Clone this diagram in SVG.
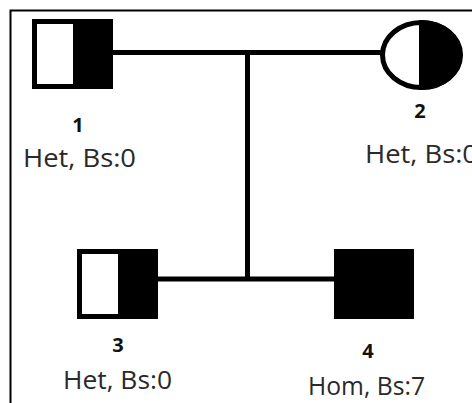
<svg xmlns="http://www.w3.org/2000/svg" width="472" height="403" viewBox="0 0 472 403">
  <style>
    .frame { fill: none; stroke: #000; stroke-width: 2; }
    .outline { fill: none; stroke: #000; stroke-width: 5; }
    .line { fill: none; stroke: #000; stroke-width: 5; }
    .num { font-family: "Open Sans", "Noto Sans", sans-serif; font-weight: bold; font-size: 20px; fill: #111; text-anchor: middle; }
    .info { font-family: "Open Sans", "Noto Sans", sans-serif; font-size: 25px; fill: #2a2a2a; }
  </style>
  <defs>
    <clipPath id="rightHalf2">
      <rect x="419" y="0" width="60" height="120"/>
    </clipPath>
  </defs>
  <rect width="472" height="403" fill="#fff"/>
  <!-- outer frame (runs off the right and bottom edges) -->
  <path class="frame" d="M10.5,410 V10.5 H480"/>

  <g id="connectors">
    <line class="line" x1="113" y1="52.5" x2="381" y2="52.5"/>
    <line class="line" x1="247.5" y1="52.5" x2="247.5" y2="279"/>
    <line class="line" x1="158" y1="279" x2="334" y2="279"/>
  </g>

  <g id="node1">
    <rect x="34.5" y="21.5" width="76" height="65" fill="#fff"/>
    <rect x="73" y="19" width="40" height="70" fill="#000"/>
    <rect class="outline" x="34.5" y="21.5" width="76" height="65"/>
    <text class="num" x="78" y="132">1</text>
    <text class="info" x="23" y="167" textLength="113" lengthAdjust="spacingAndGlyphs">Het, Bs:0</text>
  </g>

  <g id="node2">
    <ellipse cx="421.5" cy="55" rx="39" ry="32.5" fill="#fff"/>
    <ellipse cx="421.5" cy="55" rx="41" ry="35" fill="#000" clip-path="url(#rightHalf2)"/>
    <ellipse class="outline" cx="421.5" cy="55" rx="39" ry="32.5"/>
    <text class="num" x="420" y="118">2</text>
    <text class="info" x="365" y="163" textLength="113" lengthAdjust="spacingAndGlyphs">Het, Bs:0</text>
  </g>

  <g id="node3">
    <rect x="79.5" y="251.5" width="76" height="65" fill="#fff"/>
    <rect x="118" y="249" width="40" height="70" fill="#000"/>
    <rect class="outline" x="79.5" y="251.5" width="76" height="65"/>
    <text class="num" x="118" y="352">3</text>
    <text class="info" x="63" y="389" textLength="109" lengthAdjust="spacingAndGlyphs">Het, Bs:0</text>
  </g>

  <g id="node4">
    <rect x="334" y="249" width="80" height="70" fill="#000"/>
    <text class="num" x="368" y="358">4</text>
    <text class="info" x="308" y="395" textLength="117" lengthAdjust="spacingAndGlyphs">Hom, Bs:7</text>
  </g>
</svg>
